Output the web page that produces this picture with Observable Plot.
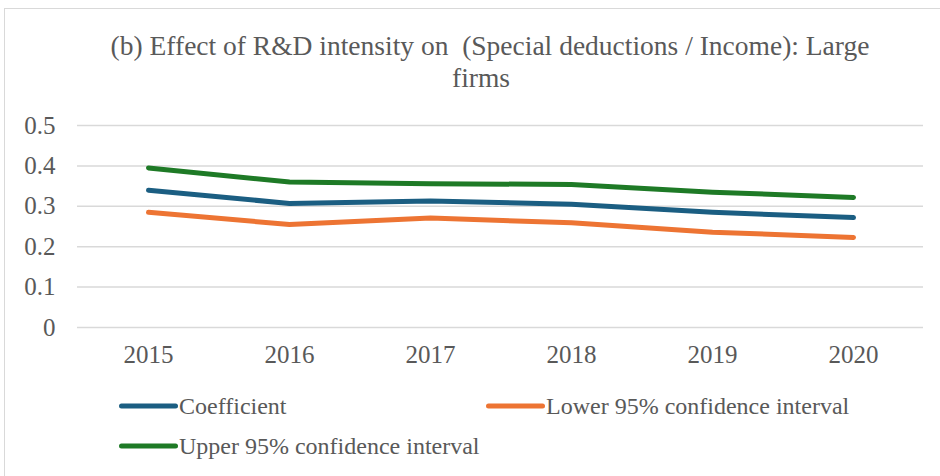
<!DOCTYPE html>
<html>
<head>
<meta charset="utf-8">
<script src="https://cdn.jsdelivr.net/npm/d3@7"></script>
<script src="https://cdn.jsdelivr.net/npm/@observablehq/plot@0.6"></script>
<style>
  html, body { margin: 0; padding: 0; background: #fff; overflow: hidden; }
  #wrap { position: relative; width: 940px; height: 476px; font-family: "Liberation Serif", "Times New Roman", "DejaVu Serif", serif; color: #595959; }
  #frame { position: absolute; left: 4px; top: 8px; width: 1000px; height: 1000px; border: 1px solid #d9d9d9; box-sizing: border-box; pointer-events: none; }
  #title { height: 100px; box-sizing: border-box; padding-top: 30px; padding-left: 40px; text-align: center; font-size: 27.5px; line-height: 31px; white-space: nowrap; }
  #title .l2 { position: relative; left: -9px; top: 1px; }
  #chart svg { display: block; }
  #legend { position: relative; height: 96px; font-size: 24px; }
  .item { position: absolute; height: 40px; display: flex; align-items: center; white-space: nowrap; }
  .item svg { display: block; }
</style>
</head>
<body>
<div id="wrap">
  <div id="frame"></div>
  <div id="title">(b) Effect of R&amp;D intensity on &nbsp;(Special deductions / Income): Large<br><span class="l2">firms</span></div>
  <div id="chart"></div>
  <div id="legend"></div>
</div>
<script>
const years = [2015, 2016, 2017, 2018, 2019, 2020];
const coefficient = [0.340, 0.307, 0.313, 0.305, 0.285, 0.272];
const lower95 = [0.285, 0.255, 0.271, 0.259, 0.236, 0.223];
const upper95 = [0.395, 0.360, 0.356, 0.354, 0.335, 0.322];
const yTicks = [0, 0.1, 0.2, 0.3, 0.4, 0.5];
const yTickLabels = ["0", "0.1", "0.2", "0.3", "0.4", "0.5"];
const seriesNames = ["Coefficient", "Lower 95% confidence interval", "Upper 95% confidence interval"];
const seriesColors = ["#1b5e82", "#ed7433", "#1e7a26"];

const FONT = '"Liberation Serif", "Times New Roman", "DejaVu Serif", serif';
const seriesValues = [coefficient, lower95, upper95];
const rows = [];
seriesNames.forEach((name, s) => {
  years.forEach((yr, i) => rows.push({series: name, year: String(yr), value: seriesValues[s][i]}));
});

const chart = Plot.plot({
  width: 940,
  height: 280,
  marginTop: 25,
  marginBottom: 53,
  marginLeft: 77,
  marginRight: 17,
  style: {fontFamily: FONT, fontSize: "25px", color: "#595959", background: "transparent"},
  x: {type: "point", domain: years.map(String), padding: 0.5},
  y: {domain: [0, 0.5]},
  color: {domain: seriesNames, range: seriesColors},
  marks: [
    Plot.ruleY(yTicks, {stroke: "#d9d9d9", strokeWidth: 1.5}),
    Plot.axisX({tickSize: 0, tickPadding: 18, fontSize: 25, fill: "#595959", label: null}),
    Plot.axisY({ticks: yTicks, tickFormat: (d) => yTickLabels[yTicks.indexOf(d)], tickSize: 0, tickPadding: 22, fontSize: 25, fill: "#595959", label: null}),
    Plot.line(rows, {x: "year", y: "value", z: "series", stroke: "series", strokeWidth: 5, strokeLinecap: "round", strokeLinejoin: "round"})
  ]
});
document.getElementById("chart").appendChild(chart);

const legend = document.getElementById("legend");
const legendPos = [[118, 6], [485, 6], [118, 46]];
seriesNames.forEach((name, i) => {
  const item = document.createElement("div");
  item.className = "item";
  item.style.left = legendPos[i][0] + "px";
  item.style.top = legendPos[i][1] + "px";
  item.innerHTML = `<svg width="61" height="10"><line x1="3.5" y1="5" x2="57.5" y2="5" stroke="${seriesColors[i]}" stroke-width="5" stroke-linecap="round"/></svg><span>${name}</span>`;
  legend.appendChild(item);
});
</script>
</body>
</html>
